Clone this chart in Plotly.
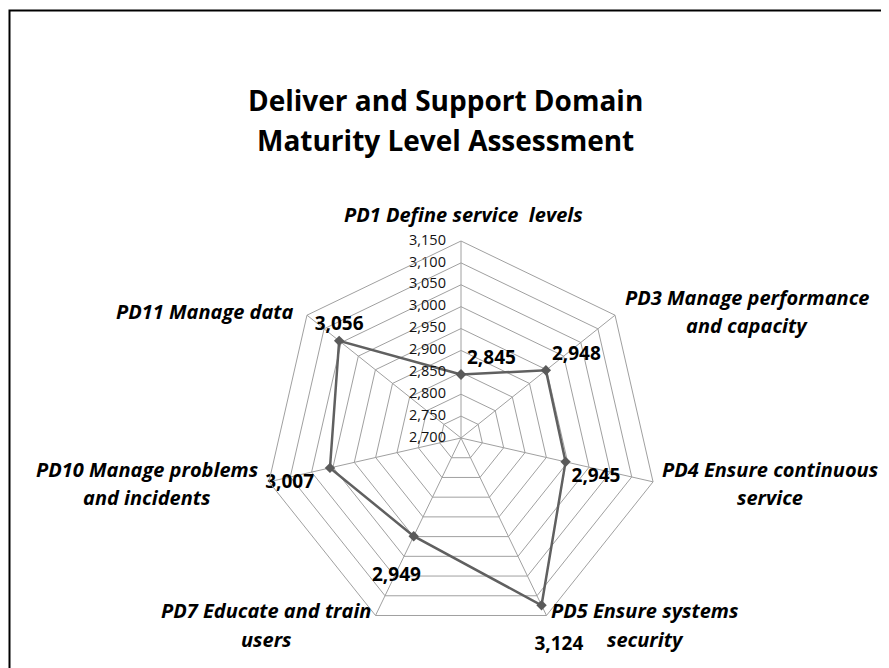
import plotly.graph_objects as go

W, H = 889, 668
OFF = 8  # page body margin in the browser

categories = [
    "PD1 Define service  levels",
    "PD3 Manage performance<br>and capacity",
    "PD4 Ensure continuous<br>service",
    "PD5 Ensure systems<br>security",
    "PD7 Educate and train<br>users",
    "PD10 Manage problems<br>and incidents",
    "PD11 Manage data",
]
values = [2845, 2948, 2945, 3124, 2949, 3007, 3056]
tick_values = list(range(2700, 3151, 50))
title_lines = ["Deliver and Support Domain", "Maturity Level Assessment"]

NB = "\u00a0"
# layout helpers (page pixel centres of label lines)
cat_label_pos = [
    [(463, 214)],
    [(747, 297), (747, 325)],
    [(770, 470), (770, 498)],
    [(645, 610), (645, 639)],
    [(266, 610), (266, 639)],
    [(147, 470), (147, 498)],
    [(205, 311)],
]
text_positions = ["top right", "top right", "bottom right", "bottom center",
                  "bottom center", "bottom left", "top center"]
text_prefix = ["", "", "", "<br>" + NB * 7, "<br>", "", ""]
text_suffix = ["", "", "", "", NB * 7, NB * 2, ""]

FONT = "Open Sans"
cx, cy, R = 461, 438, 197


def px(x):
    return (x - OFF) / W


def py(y):
    return 1 - (y - OFF) / H


fig = go.Figure()
fig.add_trace(go.Scatterpolar(
    r=values + [values[0]],
    theta=categories + [categories[0]],
    mode="lines+markers+text",
    line=dict(color="#606060", width=2.5),
    marker=dict(symbol="diamond", size=8, color="#5a5a5a"),
    text=[p + f"{v:,}" + s for p, v, s in zip(text_prefix, values, text_suffix)] + [""],
    textposition=text_positions + ["top right"],
    textfont=dict(family=FONT, size=19, color="black", weight="bold"),
    cliponaxis=False,
    showlegend=False,
))
# radial tick labels, placed along the first spoke via the polar scale
fig.add_trace(go.Scatterpolar(
    r=tick_values,
    theta=[categories[0]] * len(tick_values),
    mode="text",
    text=[f"{t:,}" + NB * 4 for t in tick_values],
    textposition="middle left",
    textfont=dict(family=FONT, size=14.5, color="#111111"),
    cliponaxis=False,
    showlegend=False,
    hoverinfo="skip",
))

annotations = []
for name, poss in zip(categories, cat_label_pos):
    for line, (x, y) in zip(name.split("<br>"), poss):
        annotations.append(dict(
            text=line, x=px(x), y=py(y), xref="paper", yref="paper",
            xanchor="center", yanchor="middle", showarrow=False,
            font=dict(family=FONT, size=20, color="black", weight="bold", style="italic"),
        ))
for line, y in zip(title_lines, [100, 140]):
    annotations.append(dict(
        text=line, x=px(445), y=py(y), xref="paper", yref="paper",
        xanchor="center", yanchor="middle", showarrow=False,
        font=dict(family=FONT, size=28, color="black", weight="bold"),
    ))

fig.update_layout(
    width=W, height=H,
    margin=dict(l=0, r=0, t=0, b=0),
    paper_bgcolor="white",
    plot_bgcolor="white",
    polar=dict(
        domain=dict(x=[px(cx - R), px(cx + R)], y=[py(cy + R), py(cy - R)]),
        bgcolor="white",
        gridshape="linear",
        angularaxis=dict(
            direction="clockwise", rotation=90,
            showticklabels=False, ticks="",
            linecolor="#a0a0a0", linewidth=1,
            gridcolor="#a0a0a0", gridwidth=1,
        ),
        radialaxis=dict(
            range=[2699.99, 3150], tickvals=tick_values,
            angle=90, showline=False, showticklabels=False,
            ticks="", gridcolor="#a0a0a0", gridwidth=1,
        ),
    ),
    annotations=annotations,
    shapes=[dict(type="rect", xref="paper", yref="paper",
                 x0=px(9.5), x1=1.05, y0=-0.05, y1=py(10.5),
                 line=dict(color="black", width=2), layer="below")],
)

fig.write_html("out.html")
